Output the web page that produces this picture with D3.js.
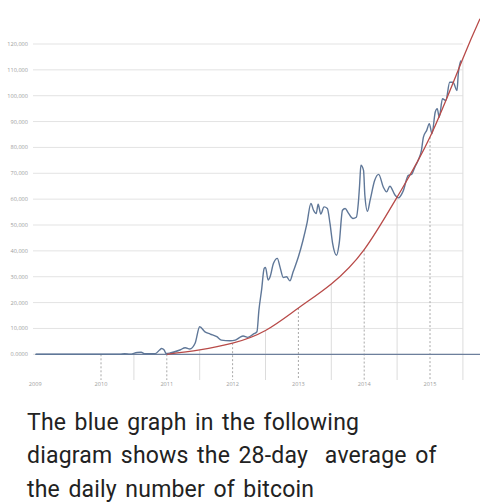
<!DOCTYPE html>
<html>
<head>
<meta charset="utf-8">
<script src="https://cdn.jsdelivr.net/npm/d3@7"></script>
<style>
  body { margin: 0; background: #fff; }
  #wrap { position: relative; width: 480px; height: 503px; overflow: hidden; }
  svg { position: absolute; left: 0; top: 0; }
  .caption {
    position: absolute; left: 27px; top: 406px; margin: 0; width: 460px; white-space: nowrap;
    font-family: Roboto, sans-serif; font-size: 23px; line-height: 33.3px; color: #222;
    word-spacing: 2.5px; letter-spacing: 0.2px;
  }
</style>
</head>
<body>
<div id="wrap">
  <svg id="chart" width="480" height="400"></svg>
  <p class="caption">The blue graph in the following<br>diagram shows the 28-day&nbsp; average of<br>the daily number of bitcoin</p>
</div>
<script>
// y ticks and x (year) ticks
const yTicks = [0, 10000, 20000, 30000, 40000, 50000, 60000, 70000, 80000, 90000, 100000, 110000, 120000];
const yearLabels = [2009, 2010, 2011, 2012, 2013, 2014, 2015];
const yearLines = [2010, 2011, 2012, 2013, 2014, 2015];
const halfYearLines = [2010.5, 2011.5, 2012.5, 2013.5, 2014.5, 2015.5];

// blue series: 28-day average (decimal year, value)
const blueYears = [2009.01, 2010.29, 2010.36, 2010.44, 2010.55, 2010.61, 2010.67, 2010.82, 2010.89, 2010.92, 2010.96, 2010.99,
  2011.05, 2011.20, 2011.28, 2011.35, 2011.43, 2011.50, 2011.58, 2011.66, 2011.76, 2011.83, 2011.96,
  2012.04, 2012.11, 2012.16, 2012.23, 2012.31, 2012.37, 2012.40, 2012.44, 2012.48, 2012.50, 2012.54, 2012.57,
  2012.62, 2012.68, 2012.72, 2012.77, 2012.82, 2012.87, 2012.92,
  2013.00, 2013.07, 2013.13, 2013.19, 2013.23, 2013.27, 2013.30, 2013.34, 2013.39, 2013.44, 2013.48, 2013.52,
  2013.58, 2013.62, 2013.67, 2013.71, 2013.76, 2013.83, 2013.88, 2013.91, 2013.93, 2013.95, 2013.99,
  2014.01, 2014.05, 2014.09, 2014.16, 2014.22, 2014.29, 2014.34, 2014.39, 2014.47, 2014.52, 2014.59,
  2014.67, 2014.72, 2014.77, 2014.82, 2014.87, 2014.90, 2014.95, 2014.99,
  2015.03, 2015.08, 2015.11, 2015.14, 2015.19, 2015.24, 2015.30, 2015.35, 2015.41, 2015.43, 2015.47];
const blueValues = [0, 0, 200, 0, 700, 770, 200, 200, 1660, 2240, 1660, 300,
  500, 1660, 2550, 2050, 4250, 10650, 8700, 7840, 6800, 5500, 5250,
  5500, 6560, 7070, 6560, 7720, 8730, 17100, 24800, 33200, 33600, 28700, 30000,
  35100, 37100, 33800, 29700, 30000, 28400, 31900,
  37700, 44100, 50600, 58300, 55700, 54400, 58000, 54200, 57000, 56400, 50600, 42900,
  38300, 42900, 55700, 56400, 54600, 52500, 53000, 58300, 65400, 73100, 71100,
  61500, 55300, 59600, 67300, 69600, 64700, 62800, 65000, 61500, 60500, 63000,
  69200, 69600, 72400, 75000, 78900, 84000, 86600, 89200,
  85300, 93700, 95000, 91700, 98800, 98200, 105200, 105200, 102000, 108500, 113600];

// red trend curve
const redYears = [2011, 2011.5, 2012, 2012.5, 2013, 2013.5, 2014, 2014.5, 2015, 2015.5, 2015.76];
const redValues = [0, 1700, 4300, 9200, 17900, 27200, 40500, 60800, 84000, 114400, 129800];

// flat zero line
const zeroYears = [2009, 2015.76];
const zeroValues = [0, 0];

const svg = d3.select("#chart");
const x = d3.scaleLinear().domain([2009, 2016]).range([35.2, 495.8]);
const y = d3.scaleLinear().domain([0, 120000]).range([354.3, 44]);
const bottom = 380;

// horizontal gridlines
svg.append("g")
  .selectAll("line")
  .data(yTicks)
  .join("line")
  .attr("x1", 33).attr("x2", x(2015.5))
  .attr("y1", d => y(d)).attr("y2", d => y(d))
  .attr("stroke", "#e3e3e3").attr("stroke-width", 1);

// y labels
svg.append("g")
  .selectAll("text")
  .data(yTicks)
  .join("text")
  .attr("x", 28).attr("y", d => y(d)).attr("dy", "0.35em")
  .attr("text-anchor", "end")
  .style("font-family", "'Open Sans', sans-serif").style("font-size", "5.6px").style("fill", "#a0a0a0")
  .text(d => d === 0 ? "0.0000" : d3.format(",")(d));

// top of a drop line = red curve value at that year (or the zero line before it starts)
const redAt = t => {
  const i = redYears.indexOf(t);
  return i >= 0 ? redValues[i] : 0;
};

// half year lines (solid, light)
svg.append("g")
  .selectAll("line")
  .data(halfYearLines)
  .join("line")
  .attr("x1", d => x(d)).attr("x2", d => x(d))
  .attr("y1", d => y(redAt(d))).attr("y2", bottom)
  .attr("stroke", "#dcdcdc").attr("stroke-width", 1);

// year lines (dashed)
svg.append("g")
  .selectAll("line")
  .data(yearLines)
  .join("line")
  .attr("x1", d => x(d)).attr("x2", d => x(d))
  .attr("y1", d => y(redAt(d))).attr("y2", bottom)
  .attr("stroke", "#a8a8a8").attr("stroke-width", 1)
  .attr("stroke-dasharray", "2,2");

// year labels
svg.append("g")
  .selectAll("text")
  .data(yearLabels)
  .join("text")
  .attr("x", d => x(d)).attr("y", 386)
  .attr("text-anchor", "middle")
  .style("font-family", "'Open Sans', sans-serif").style("font-size", "5.6px").style("fill", "#a0a0a0")
  .text(d => d);

const line = d3.line().x(d => x(d[0])).y(d => y(d[1]));

svg.append("path")
  .datum(d3.zip(zeroYears, zeroValues))
  .attr("d", line)
  .attr("fill", "none").attr("stroke", "#6d7f9c").attr("stroke-width", 1.3);

svg.append("path")
  .datum(d3.zip(blueYears, blueValues))
  .attr("d", line.curve(d3.curveMonotoneX))
  .attr("fill", "none").attr("stroke", "#5f7798").attr("stroke-width", 1.4)
  .attr("stroke-linejoin", "round");

svg.append("path")
  .datum(d3.zip(redYears, redValues))
  .attr("d", d3.line().x(d => x(d[0])).y(d => y(d[1])).curve(d3.curveNatural))
  .attr("fill", "none").attr("stroke", "#b84a48").attr("stroke-width", 1.3);
</script>
</body>
</html>
